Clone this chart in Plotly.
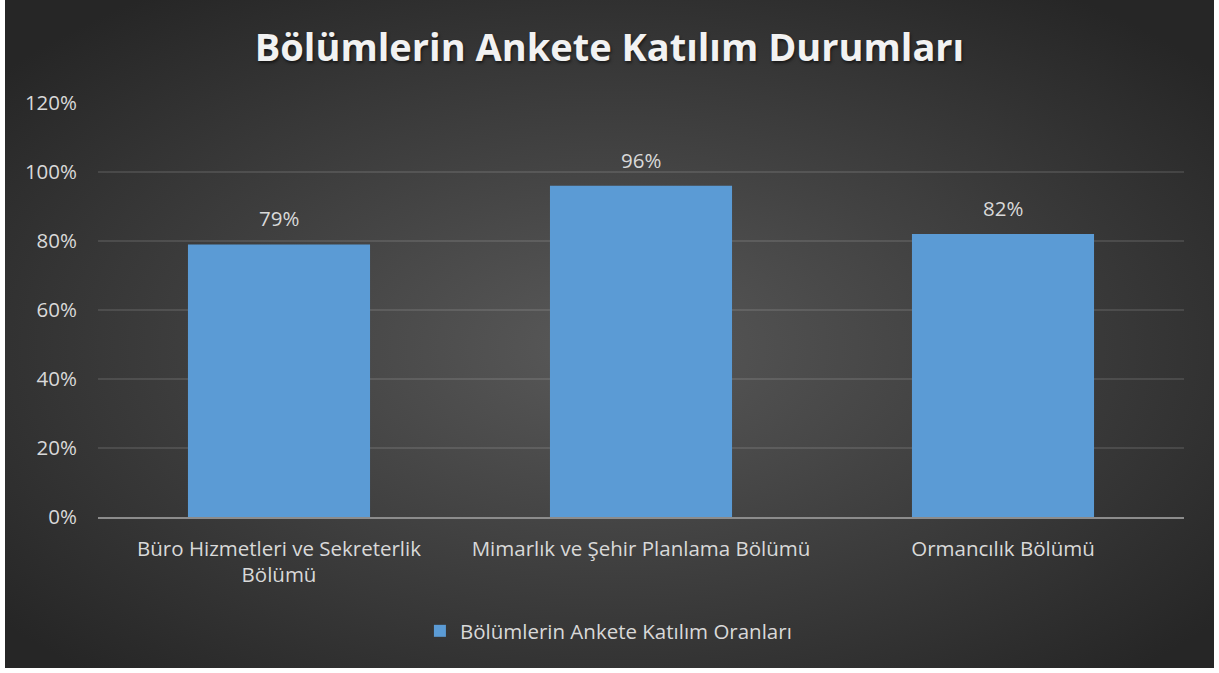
import base64
import plotly.graph_objects as go

categories = ["Büro Hizmetleri ve Sekreterlik<br>Bölümü", "Mimarlık ve Şehir Planlama Bölümü", "Ormancılık Bölümü"]
values = [0.79, 0.96, 0.82]
series_name = "Bölümlerin Ankete Katılım Oranları"
title_text = "Bölümlerin Ankete Katılım Durumları"
y_ticks = [0, 0.2, 0.4, 0.6, 0.8, 1.0, 1.2]
y_ticklabels = ["0%", "20%", "40%", "60%", "80%", "100%", "120%"]

W, H = 1209, 668
L, R, T, B = 93, 30, 103, 151
PW, PH = W - L - R, H - T - B

FONT = "Open Sans"
TXT = "#d9d9d9"
FS = 20.5

svg = f'''<svg xmlns="http://www.w3.org/2000/svg" width="{W}" height="{H}" viewBox="0 0 {W} {H}" preserveAspectRatio="none">
<defs><radialGradient id="g" cx="50%" cy="52%" r="65%" fx="50%" fy="52%">
<stop offset="0" stop-color="#595959"/><stop offset="1" stop-color="#262626"/>
</radialGradient></defs><rect width="{W}" height="{H}" fill="url(#g)"/></svg>'''
bg_uri = "data:image/svg+xml;base64," + base64.b64encode(svg.encode()).decode()

fig = go.Figure()
fig.add_trace(go.Bar(
    x=categories, y=values, name=series_name,
    marker=dict(color="#5b9bd5", line=dict(width=0)),
    width=0.503, showlegend=True,
))

for c, v in zip(categories, values):
    fig.add_annotation(x=c, y=v, text=f"{round(v*100)}%", showarrow=False,
                       yanchor="bottom", yshift=10,
                       font=dict(family=FONT, size=FS, color=TXT))

fig.add_layout_image(dict(
    source=bg_uri, xref="paper", yref="paper",
    x=-L / PW, y=1 + T / PH, sizex=W / PW, sizey=H / PH,
    xanchor="left", yanchor="top", sizing="stretch", layer="below",
))

fig.update_layout(
    width=W, height=H,
    margin=dict(l=L, r=R, t=T, b=B, pad=0),
    paper_bgcolor="#333333",
    plot_bgcolor="rgba(0,0,0,0)",
    title=dict(text=title_text, x=0.5, xanchor="center", y=1 - 48 / H, yanchor="middle",
               font=dict(family=FONT, size=38, color="#f2f2f2", weight="bold",
                         shadow="1px 2px 3px rgba(0,0,0,0.55)")),
    font=dict(family=FONT, size=FS, color=TXT),
    bargap=0.497,
    legend=dict(orientation="h", x=0.47, xanchor="center", y=(517 - 631) / PH, yanchor="middle",
                font=dict(family=FONT, size=FS, color=TXT), bgcolor="rgba(0,0,0,0)",
                itemwidth=30),
    xaxis=dict(showgrid=False, showline=True, linecolor="#8c8c8c", linewidth=2,
               ticks="", tickfont=dict(family=FONT, size=FS, color=TXT), ticklabelstandoff=12),
    yaxis=dict(range=[0, 1.2], tickvals=y_ticks, ticktext=y_ticklabels,
               showgrid=True, gridcolor="rgba(255,255,255,0.11)", gridwidth=1.5,
               zeroline=False, showline=False, ticks="",
               tickfont=dict(family=FONT, size=FS, color=TXT), ticklabelstandoff=20),
)

fig.write_html("out.html", post_script="document.body.style.margin='0 0 0 5px';document.body.style.background='white';")
